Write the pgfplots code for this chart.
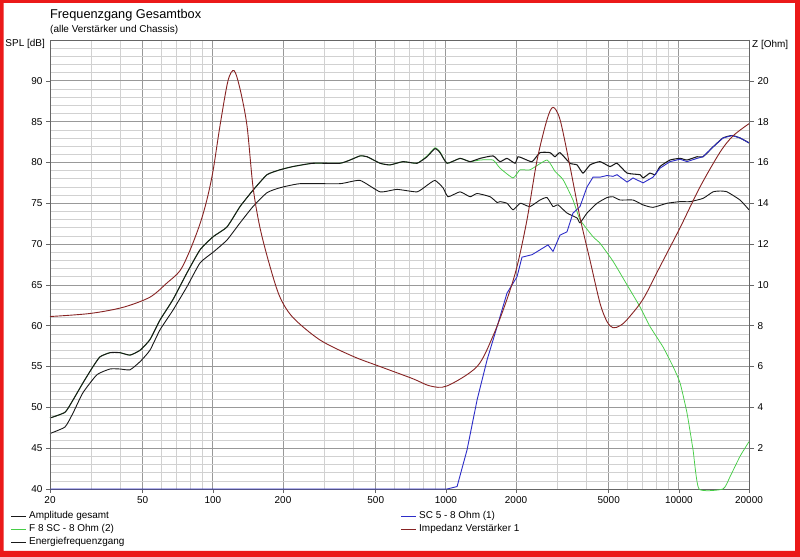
\documentclass[border=0pt]{standalone}
\usepackage{pgfplots}
\pgfplotsset{compat=1.18}
\usepackage{pgfplotstable}
\usepackage{fontspec}
\setmainfont{Liberation Sans}
\definecolor{cgreen}{RGB}{70,205,70}
\definecolor{cblue}{RGB}{45,45,200}
\definecolor{cimp}{RGB}{135,35,35}
\definecolor{cblack}{RGB}{25,25,25}
\definecolor{cframe}{RGB}{235,25,25}

\pgfplotstableread{
f db
20 48.7
23.2 49.4
25.1 50.9
27.7 53.0
30.6 55.0
32.8 56.2
36.2 56.7
39.9 56.7
44.1 56.4
48.7 57.0
53.7 58.3
59.3 60.7
67.4 63.2
77.5 66.5
88.1 69.3
100.2 70.9
115 72.1
130.8 74.6
148.7 76.6
170.8 78.5
194.1 79.1
220.8 79.5
269 79.9
351 79.9
388 80.3
428 80.8
459 80.7
522 79.9
576 79.7
655 80.1
752 79.9
830 80.7
898 81.7
944 81.2
1012 79.9
1150 80.5
1270 80.1
1402 80.5
1594 80.8
1708 80.1
1830 80.5
1981 79.9
2040 80.7
2143 80.5
2343 80.1
2536 81.2
2799 81.2
2941 80.7
3090 81.2
3410 79.9
3655 79.7
3879 78.7
4156 79.7
4588 80.1
5063 79.5
5427 79.9
5993 78.7
6814 78.5
7019 78.1
7520 78.7
7903 78.5
8299 79.5
9165 80.3
10116 80.5
10838 80.3
11964 80.7
12696 80.7
14014 81.9
15467 83.0
16904 83.3
18300 83.0
20000 82.4
}\amp

\pgfplotstableread{
f db
20 46.8
23.2 47.6
25.1 49.3
27.7 51.8
31.8 54.0
36.2 54.7
39.9 54.7
44.1 54.6
48.7 55.6
53.7 57.0
59.3 59.5
67.4 61.9
77.5 64.8
88.1 67.7
100.2 69.0
115 70.5
130.8 72.6
148.7 74.6
170.8 76.3
194.1 76.9
236.6 77.4
351 77.4
428 77.8
522 76.4
617 76.7
752 76.4
830 77.2
898 77.8
972 76.9
1022 75.8
1150 76.4
1270 75.8
1361 76.2
1548 75.8
1659 75.1
1708 75.2
1830 75.0
1942 74.2
2081 75.0
2143 74.9
2297 74.6
2536 75.4
2717 75.7
2883 74.6
3030 74.8
3310 73.8
3655 73.2
3765 72.6
4034 73.8
4453 75.0
4917 75.7
5216 75.8
5592 75.4
6360 75.4
7019 74.8
7747 74.5
8897 75.0
10116 75.2
11167 75.2
12696 75.6
14014 76.4
15016 76.5
16090 76.4
18300 75.4
20000 74.2
}\energie

\pgfplotstableread{
f db
20 48.7
23.2 49.4
25.1 50.9
27.7 53.0
30.6 55.0
32.8 56.2
36.2 56.7
39.9 56.7
44.1 56.4
48.7 57.0
53.7 58.3
59.3 60.7
67.4 63.2
77.5 66.5
88.1 69.3
100.2 70.9
115 72.1
130.8 74.6
148.7 76.6
170.8 78.5
194.1 79.1
220.8 79.5
269 79.9
351 79.9
388 80.3
428 80.8
459 80.7
522 79.9
576 79.7
655 80.1
752 79.9
830 80.8
898 81.8
944 81.3
1012 79.9
1150 80.5
1270 80.1
1402 80.3
1594 80.3
1708 79.3
1942 78.1
2081 79.1
2297 79.1
2717 80.3
2941 78.9
3183 77.9
3513 75.4
3765 73.0
4281 70.9
4588 70.1
5216 67.9
5993 65.0
6814 62.3
7520 59.9
8550 57.4
9441 55.0
10116 53.0
10838 49.3
11502 44.8
12203 40.0
15467 40.0
16575 41.5
18300 44.0
20000 45.8
}\feight

\pgfplotstableread{
f db
20 40.0
1012 40.0
1117 40.3
1233 44.8
1361 50.9
1502 55.8
1659 59.9
1830 64.0
2020 66.0
2122 68.4
2343 68.7
2536 69.3
2744 69.9
2883 69.1
3090 71.1
3310 71.5
3513 73.8
3765 74.6
4034 77.0
4281 78.2
4588 78.2
4917 78.4
5216 78.3
5427 78.5
5993 77.6
6360 78.1
7019 77.5
7747 78.2
8299 79.3
9165 80.1
10116 80.4
10838 80.1
11964 80.5
12696 80.7
14014 81.9
15467 83.0
16904 83.3
18300 83.0
20000 82.4
}\scfive

\pgfplotstableread{
f z
20 8.45
29.7 8.6
41.1 8.9
53.7 9.4
63.6 10.1
72.3 10.7
79.8 11.7
88.1 13.0
94.4 14.2
100.2 15.6
107.3 17.8
116.1 20.0
123.3 20.5
130.8 19.6
140.1 17.8
148.7 14.8
159.3 12.8
175.9 10.9
194.1 9.4
220.8 8.4
288.3 7.3
399.5 6.5
521.7 6.0
722.9 5.4
855 5.05
1012 5.05
1361 6.0
1594 7.5
1830 9.3
2020 10.9
2230 13.2
2461 16.1
2717 18.1
2883 18.7
3090 18.1
3410 15.8
3765 13.3
4156 11.2
4588 9.1
4917 8.2
5216 7.9
5592 8.0
5993 8.3
7019 9.3
8299 10.9
10116 12.8
12324 14.8
15016 16.5
17072 17.3
20000 17.9
}\imp

\pgfplotsset{
  every axis/.append style={
    /pgf/number format/assume math mode=true,
    tick label style={font=\fontsize{10}{12}\selectfont},
  },
}

\begin{document}
\begin{tikzpicture}
\path[use as bounding box] (0,0) rectangle (800bp,557bp);
\fill[white] (0,0) rectangle (800bp,557bp);

\begin{axis}[
  at={(50bp,68bp)}, anchor=south west,
  scale only axis, width=699bp, height=449bp,
  xmode=log, xmin=20, xmax=20000, ymin=40, ymax=95,
  clip=false,
  xtick={20,50,100,200,500,1000,2000,5000,10000,20000},
  xticklabels={20,50,100,200,500,1000,2000,5000,10000,20000},
  minor xtick={30,40,60,70,80,90,300,400,600,700,800,900,3000,4000,6000,7000,8000,9000},
  ytick={40,45,...,90},
  minor ytick={41,42,43,44,46,47,48,49,51,52,53,54,56,57,58,59,61,62,63,64,66,67,68,69,71,72,73,74,76,77,78,79,81,82,83,84,86,87,88,89,91,92,93,94},
  ytick pos=left, xtick pos=bottom,
  tick align=outside,
  major tick length=4bp, minor tick length=0bp,
  tick style={black!60, line width=0.6bp},
  grid=both,
  major grid style={black!40, line width=0.8bp},
  minor grid style={black!18, line width=0.6bp},
  axis line style={black!60, line width=0.8bp},
  legend image code/.code={\draw[#1] (0bp,0bp) -- (15bp,0bp);},
  legend cell align=left,
  legend style={draw=none, fill=none, at={(-0.0565,-0.0457)}, anchor=north west,
    font=\fontsize{10}{12}\selectfont, row sep=0pt, inner sep=0pt,
    nodes={inner sep=1.5bp, text height=7.5bp, text depth=2.5bp},
    /tikz/every odd column/.append style={column sep=1bp}},
]
\addplot[cgreen, line width=0.75bp, smooth, tension=0.3, forget plot] table[x=f,y=db] {\feight};
\addplot[cblack, line width=0.9bp, smooth, tension=0.3, forget plot] table[x=f,y=db] {\energie};
\addplot[cblack, line width=1.05bp, smooth, tension=0.3, forget plot] table[x=f,y=db] {\amp};
\addplot[cblue, line width=0.9bp, forget plot] table[x=f,y=db] {\scfive};
\addlegendimage{cblack, line width=1bp}
\addlegendentry{Amplitude gesamt}
\addlegendimage{cgreen, line width=1bp}
\addlegendentry{F 8 SC - 8 Ohm (2)}
\addlegendimage{cblack, line width=1bp}
\addlegendentry{Energiefrequenzgang}
\end{axis}

\begin{axis}[
  at={(50bp,68bp)}, anchor=south west,
  scale only axis, width=699bp, height=449bp,
  xmode=log, xmin=20, xmax=20000, ymin=0, ymax=22,
  clip=false,
  hide x axis,
  ytick={2,4,...,20},
  ytick pos=right,
  tick align=outside,
  major tick length=5bp, minor tick length=0bp,
  tick style={black!60, line width=0.6bp},
  axis line style={black!60, line width=0.8bp},
  legend image code/.code={\draw[#1] (0bp,0bp) -- (15bp,0bp);},
  legend cell align=left,
  legend style={draw=none, fill=none, at={(0.5014,-0.0457)}, anchor=north west,
    font=\fontsize{10}{12}\selectfont, row sep=0pt, inner sep=0pt,
    nodes={inner sep=1.5bp, text height=7.5bp, text depth=2.5bp},
    /tikz/every odd column/.append style={column sep=1bp}},
]
\addplot[cimp, line width=0.9bp, smooth, tension=0.5, forget plot] table[x=f,y=z] {\imp};
\addlegendimage{cblue, line width=1bp}
\addlegendentry{SC 5 - 8 Ohm (1)}
\addlegendimage{cimp, line width=1bp}
\addlegendentry{Impedanz Verstärker 1}
\end{axis}

\node[anchor=west, inner sep=0pt, font=\fontsize{12.8}{14}\selectfont] at (50bp,542bp) {Frequenzgang Gesamtbox};
\node[anchor=west, inner sep=0pt, font=\fontsize{10}{12}\selectfont] at (50bp,527.5bp) {(alle Verstärker und Chassis)};
\node[anchor=east, inner sep=0pt, font=\fontsize{10}{12}\selectfont] at (45bp,513.5bp) {SPL [dB]};
\node[anchor=west, inner sep=0pt, font=\fontsize{10}{12}\selectfont] at (752bp,512bp) {Z [Ohm]};

\fill[cframe, even odd rule] (0,0) rectangle (800bp,557bp) (3.5bp,6bp) rectangle (795bp,554bp);
\end{tikzpicture}
\end{document}
